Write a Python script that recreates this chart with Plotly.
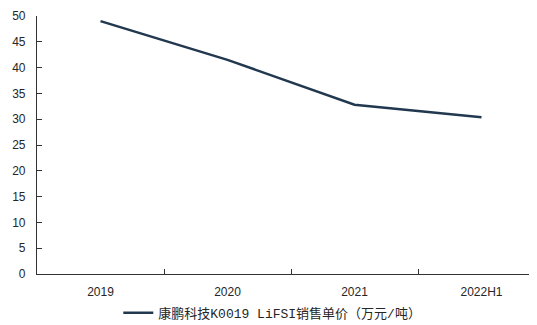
import plotly.graph_objects as go

years = ['2019', '2020', '2021', '2022H1']
price = [49.0, 41.5, 32.8, 30.4]
series_name = '康鹏科技K0019 LiFSI销售单价（万元/吨）'

fig = go.Figure()
fig.add_trace(go.Scatter(
    x=years, y=price, mode='lines', name=series_name,
    line=dict(color='#22384f', width=2.5),
))

# page body has an 8px margin, so offsets are a bit smaller than in the picture
fig.update_layout(
    width=537, height=317,
    margin=dict(l=29, r=0, t=8, b=51, autoexpand=False),
    plot_bgcolor='white', paper_bgcolor='white',
    font=dict(family='Arial, Liberation Sans, sans-serif', size=12, color='#262626'),
    showlegend=True,
    legend=dict(orientation='h', x=0.16, xanchor='left', y=-0.15, yanchor='middle',
                font=dict(family='Liberation Mono, Noto Sans CJK SC', size=13, color='#262626')),
)
fig.update_xaxes(
    type='category', range=[-0.5, 3.5], automargin=False,
    showline=True, linecolor='#333333', linewidth=1.2,
    ticks='inside', ticklen=5, tickcolor='#333333', tickson='boundaries',
    ticklabelstandoff=6,
    showgrid=False, zeroline=False,
)
fig.update_yaxes(
    range=[0, 50], dtick=5, automargin=False,
    showline=True, linecolor='#333333', linewidth=1.2,
    ticks='inside', ticklen=5, tickcolor='#333333',
    ticklabelstandoff=8,
    showgrid=False, zeroline=False,
)

fig.write_html("out.html")
